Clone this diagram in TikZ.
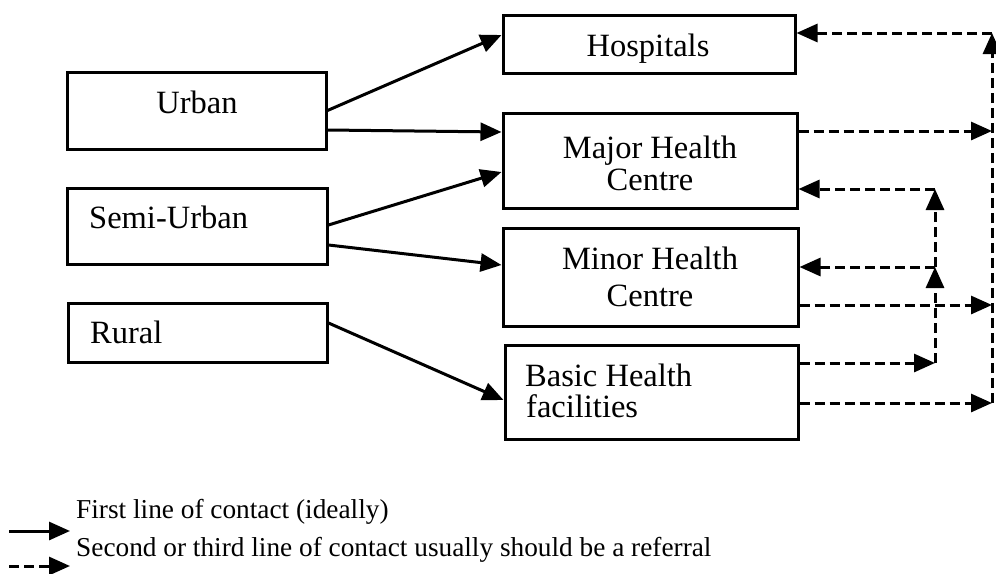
\documentclass[tikz,border=0pt]{standalone}
\usepackage{fontspec}
\setmainfont{Liberation Serif}
\usetikzlibrary{arrows.meta}
\begin{document}
\begin{tikzpicture}[x=1pt,y=-1pt,
  box/.style={draw, line width=3pt, inner sep=0pt},
  lbl/.style={inner sep=0pt, font=\fontsize{32.5}{36}\selectfont},
  leg/.style={inner sep=0pt, font=\fontsize{27.3}{30}\selectfont},
  link/.style={line width=3pt, -{Triangle[length=21pt,width=18pt]}},
  refer/.style={link, dash pattern=on 10pt off 5pt},
]
\useasboundingbox (0,0) rectangle (996,573);

% settlement types
\node[box, minimum width=259pt, minimum height=77pt] (urban) at (196.5,110.5) {};
\node[box, minimum width=260pt, minimum height=76pt] (semi)  at (197,226) {};
\node[box, minimum width=259pt, minimum height=59pt] (rural) at (197.5,332.5) {};

% levels of care
\node[box, minimum width=292pt, minimum height=58pt] (hosp)  at (649,44) {};
\node[box, minimum width=294pt, minimum height=95pt] (major) at (650,160.5) {};
\node[box, minimum width=295pt, minimum height=98pt] (minor) at (650.5,277) {};
\node[box, minimum width=293pt, minimum height=94pt] (basic) at (651.5,392) {};

% box texts
\node[lbl, anchor=base]      (urbanT)  at (197,113) {Urban};
\node[lbl, anchor=base west] (semiT)   at (89,228)  {Semi-Urban};
\node[lbl, anchor=base west] (ruralT)  at (90,343)  {Rural};
\node[lbl, anchor=base]      (hospT)   at (648,56)  {Hospitals};
\node[lbl, anchor=base]      (majorT1) at (650,158) {Major Health};
\node[lbl, anchor=base]      (majorT2) at (650,190) {Centre};
\node[lbl, anchor=base]      (minorT1) at (650,269) {Minor Health};
\node[lbl, anchor=base]      (minorT2) at (650,306) {Centre};
\node[lbl, anchor=base west] (basicT1) at (525,386) {Basic Health};
\node[lbl, anchor=base west] (basicT2) at (526,417) {facilities};

% first line of contact
\draw[link] (urban.east) -- ([yshift=9pt]hosp.west);
\draw[link] ([yshift=-19.5pt]urban.east) -- ([yshift=28.5pt]major.west);
\draw[link] ([yshift=1pt]semi.east) -- ([yshift=-11.5pt]major.west);
\draw[link] ([yshift=-19pt]semi.east) -- ([yshift=12pt]minor.west);
\draw[link] ([yshift=9.5pt]rural.east) -- ([yshift=-8pt]basic.west);

% referral routes
\coordinate (outTop) at (992,33);
\coordinate (outMaj) at (992,131);
\coordinate (outMin) at (992,305);
\coordinate (outBas) at (992,403);
\coordinate (inMaj)  at (935,189);
\coordinate (inMin)  at (935,267);
\coordinate (inBas)  at (935,363);

\draw[refer] (outBas) -- (outTop);
\draw[refer] (outTop) -- (hosp.east |- outTop);
\draw[refer] (major.east |- outMaj) -- (outMaj);
\draw[refer] (minor.east |- outMin) -- (outMin);
\draw[refer] (basic.east |- outBas) -- (outBas);

\draw[refer] (basic.east |- inBas) -- (inBas);
\draw[refer] (inBas) -- (inMin);
\draw[refer] (inMin) -- (inMaj);
\draw[refer] (inMin) -- (minor.east |- inMin);
\draw[refer] (inMaj) -- (major.east |- inMaj);

% legend
\coordinate (legA1) at (9,531);
\coordinate (legA2) at (70,531);
\draw[link] (legA1) -- (legA2);
\node[leg, anchor=base west] (legT1) at (76,518) {First line of contact (ideally)};
\coordinate (legB1) at (9,566);
\coordinate (legB2) at (70,566);
\draw[refer] (legB1) -- (legB2);
\node[leg, anchor=base west] (legT2) at (76,556) {Second or third line of contact usually should be a referral};
\end{tikzpicture}
\end{document}
